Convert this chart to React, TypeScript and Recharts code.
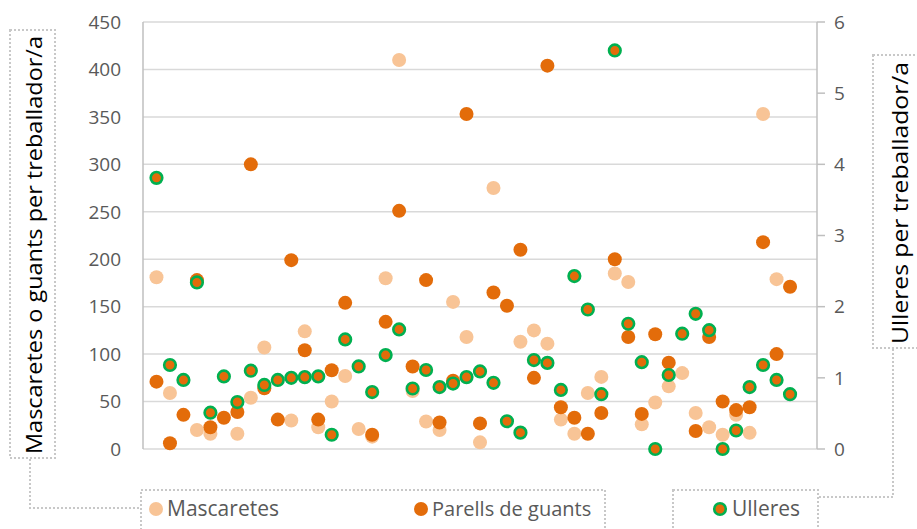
import React from "react";
import { ScatterChart, Scatter, XAxis, YAxis, CartesianGrid } from "recharts";

const seriesNames = ["Mascaretes", "Parells de guants", "Ulleres"];
const leftTicks = [0, 50, 100, 150, 200, 250, 300, 350, 400, 450];
const rightTicks = [0, 1, 2, 3, 4, 5, 6];
const leftTitle = "Mascaretes o guants per treballador/a";
const rightTitle = "Ulleres per treballador/a";

const mascaretes: (number | null)[] = [
  181, 59, null, 20, 16, null, 16, 54, 107, null, 30, 124, 23, 50, 77, 21, 13, 180, 410, 61, 29, 20, 155, 118, 7,
  275, null, 113, 125, 111, 31, 16, 59, 76, 185, 176, 26, 49, 66, 80, 38, 23, 15, 36, 17, 353, 179, null,
];
const parells: (number | null)[] = [
  71, 6, 36, 178, 23, 33, 39, 300, 64, 31, 199, 104, 31, 83, 154, null, 15, 134, 251, 87, 178, 28, 72, 353, 27,
  165, 151, 210, 75, 404, 44, 33, 16, 38, 200, 118, 37, 121, 91, null, 19, 118, 50, 41, 44, 218, 100, 171,
];
const ulleres: (number | null)[] = [
  3.81, 1.18, 0.97, 2.34, 0.51, 1.02, 0.66, 1.1, 0.9, 0.97, 1.0, 1.01, 1.02, 0.2, 1.54, 1.16, 0.8, 1.32, 1.68, 0.85,
  1.11, 0.87, 0.92, 1.01, 1.09, 0.93, 0.39, 0.23, 1.25, 1.21, 0.83, 2.43, 1.96, 0.77, 5.6, 1.76, 1.22, 0, 1.04, 1.62,
  1.9, 1.67, 0, 0.26, 0.87, 1.18, 0.97, 0.77,
];

const toPoints = (arr: (number | null)[]) =>
  arr.map((v, i) => ({ x: i + 1, y: v })).filter((p) => p.y !== null);

const C_LIGHT = "#F8C496";
const C_DARK = "#E36C0A";
const C_GREEN = "#00B050";
const FONT = "'Open Sans', sans-serif";

const LightDot = (p: any) => <circle cx={p.cx} cy={p.cy} r={7} fill={C_LIGHT} />;
const DarkDot = (p: any) => <circle cx={p.cx} cy={p.cy} r={7} fill={C_DARK} />;
const GreenDot = (p: any) => (
  <circle cx={p.cx} cy={p.cy} r={5.8} fill={C_DARK} stroke={C_GREEN} strokeWidth={2.6} />
);

const dotted = { fill: "none", stroke: "#c8c8c8", strokeWidth: 2, strokeDasharray: "2 2" };

export default function App() {
  return (
    <div style={{ position: "absolute", left: 0, top: 0, width: 917, height: 529, background: "#fff" }}>
      <ScatterChart width={917} height={529} margin={{ top: 22, right: 40, bottom: 80, left: 83 }}>
        <CartesianGrid yAxisId="left" vertical={false} stroke="#d9d9d9" strokeWidth={1.5} />
        <XAxis type="number" dataKey="x" domain={[0, 50]} hide />
        <YAxis
          yAxisId="left"
          type="number"
          dataKey="y"
          domain={[0, 450]}
          ticks={leftTicks}
          width={60}
          axisLine={{ stroke: "#bfbfbf", strokeWidth: 1.5 }}
          tickLine={false}
          tickSize={0}
          tickMargin={22}
          tick={{ fill: "#595959", fontSize: 19, fontFamily: FONT }}
          interval={0}
        />
        <YAxis
          yAxisId="right"
          orientation="right"
          type="number"
          dataKey="y"
          domain={[0, 6]}
          ticks={rightTicks}
          width={60}
          axisLine={{ stroke: "#bfbfbf", strokeWidth: 1.5 }}
          tickLine={{ stroke: "#bfbfbf", strokeWidth: 1.5 }}
          tickSize={8}
          tickMargin={9}
          tick={{ fill: "#595959", fontSize: 19, fontFamily: FONT, textAnchor: "start" }}
          interval={0}
        />
        <Scatter name={seriesNames[0]} yAxisId="left" data={toPoints(mascaretes)} shape={LightDot} isAnimationActive={false} />
        <Scatter name={seriesNames[1]} yAxisId="left" data={toPoints(parells)} shape={DarkDot} isAnimationActive={false} />
        <Scatter name={seriesNames[2]} yAxisId="right" data={toPoints(ulleres)} shape={GreenDot} isAnimationActive={false} />
      </ScatterChart>
      <svg
        width={917}
        height={529}
        style={{ position: "absolute", left: 0, top: 0, pointerEvents: "none" }}
      >
        <rect x={10} y={30} width={45} height={428} {...dotted} />
        <polyline points="30,459 30,508 141,508" {...dotted} />
        <text
          transform="translate(42,245) rotate(-90)"
          textAnchor="middle"
          fontFamily={FONT}
          fontSize={22.5}
          textLength={418}
          lengthAdjust="spacingAndGlyphs"
          fill="#000"
        >
          {leftTitle}
        </text>
        <rect x={873} y={55} width={50} height={293} {...dotted} />
        <polyline points="893,349 893,497 818,497" {...dotted} />
        <text
          transform="translate(908,203) rotate(-90)"
          textAnchor="middle"
          fontFamily={FONT}
          fontSize={22.5}
          textLength={282}
          lengthAdjust="spacingAndGlyphs"
          fill="#000"
        >
          {rightTitle}
        </text>
        <rect x={141} y={490} width={464} height={60} {...dotted} />
        <rect x={673} y={490} width={145} height={60} {...dotted} />
        <circle cx={156} cy={509} r={7} fill={C_LIGHT} />
        <text x={167} y={516} fontFamily={FONT} fontSize={21} fill="#595959">{seriesNames[0]}</text>
        <circle cx={421} cy={509} r={7} fill={C_DARK} />
        <text x={432} y={516} fontFamily={FONT} fontSize={20} fill="#595959">{seriesNames[1]}</text>
        <circle cx={720} cy={509} r={5.8} fill={C_DARK} stroke={C_GREEN} strokeWidth={2.6} />
        <text x={732} y={516} fontFamily={FONT} fontSize={21} fill="#595959">{seriesNames[2]}</text>
      </svg>
    </div>
  );
}
